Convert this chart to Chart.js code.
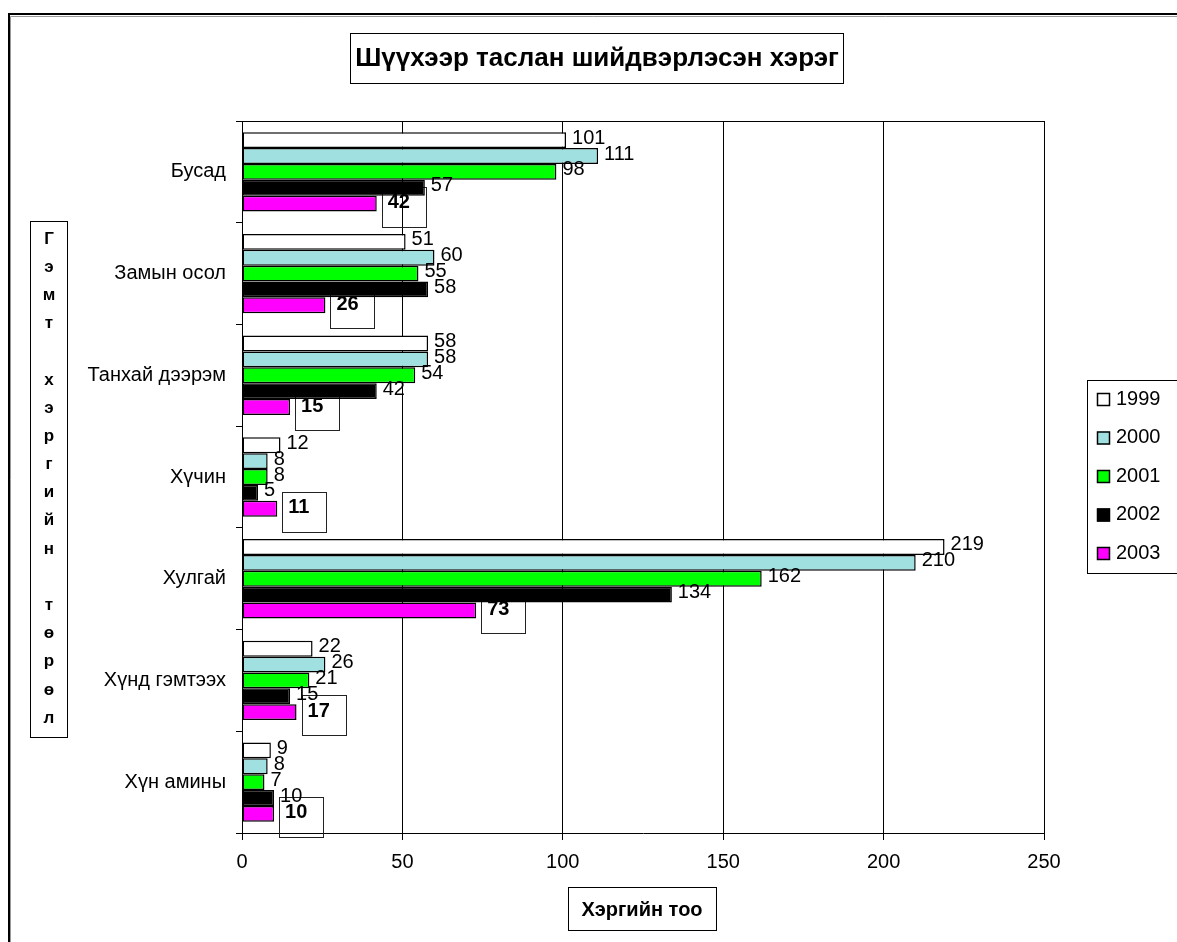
<!DOCTYPE html>
<html>
<head>
<meta charset="utf-8">
<script src="https://cdn.jsdelivr.net/npm/chart.js@4/dist/chart.umd.min.js"></script>
<style>
  html, body { margin: 0; padding: 0; background: #fff; }
  canvas { display: block; }
</style>
</head>
<body>
<canvas id="chart" width="1177" height="942"></canvas>
<script>
// Данные по годам
const categories = ['Бусад', 'Замын осол', 'Танхай дээрэм', 'Хүчин', 'Хулгай', 'Хүнд гэмтээх', 'Хүн амины'];
const years = ['1999', '2000', '2001', '2002', '2003'];
const values1999 = [101, 51, 58, 12, 219, 22, 9];
const values2000 = [111, 60, 58, 8, 210, 26, 8];
const values2001 = [98, 55, 54, 8, 162, 21, 7];
const values2002 = [57, 58, 42, 5, 134, 15, 10];
const values2003 = [42, 26, 15, 11, 73, 17, 10];
const xTicks = [0, 50, 100, 150, 200, 250];

const chartTitle = 'Шүүхээр таслан шийдвэрлэсэн хэрэг';
const xTitle = 'Хэргийн тоо';
const yTitle = 'Гэмт хэргийн төрөл';

const colors = ['#ffffff', '#a0e0e0', '#00ff00', '#000000', '#ff00ff'];
const FONT = "'Liberation Sans', Arial, sans-serif";

const seriesValues = [values1999, values2000, values2001, values2002, values2003];

// Рамка вокруг всего графика
const framePlugin = {
    id: 'frame',
    beforeDraw(chart) {
        const ctx = chart.ctx;
        ctx.save();
        ctx.strokeStyle = '#999';
        ctx.lineWidth = 1;
        ctx.beginPath();
        ctx.moveTo(10.5, 942);
        ctx.lineTo(10.5, 16.5);
        ctx.lineTo(1177, 16.5);
        ctx.stroke();
        ctx.strokeStyle = '#000';
        ctx.lineWidth = 2;
        ctx.beginPath();
        ctx.moveTo(9, 942);
        ctx.lineTo(9, 14);
        ctx.lineTo(1177, 14);
        ctx.stroke();
        ctx.restore();
    }
};

// Подписи значений; у 2003 года жирный шрифт в рамке
const labelsPlugin = {
    id: 'valueLabels',
    beforeDatasetsDraw(chart) {
        const ctx = chart.ctx;
        const last = chart.data.datasets.length - 1;
        ctx.save();
        ctx.strokeStyle = '#222';
        ctx.lineWidth = 1;
        chart.getDatasetMeta(last).data.forEach(bar => {
            const x = Math.round(bar.x) + 5.5;
            const y = Math.round(bar.y) - 16.5;
            ctx.strokeRect(x, y, 44, 40);
        });
        ctx.restore();
    },
    afterDatasetsDraw(chart) {
        const ctx = chart.ctx;
        const last = chart.data.datasets.length - 1;
        ctx.save();
        ctx.fillStyle = '#000';
        ctx.textBaseline = 'middle';
        ctx.textAlign = 'left';
        chart.data.datasets.forEach((ds, i) => {
            const meta = chart.getDatasetMeta(i);
            meta.data.forEach((bar, j) => {
                if (i === last) {
                    ctx.font = 'bold 20px ' + FONT;
                    ctx.fillText(ds.data[j], bar.x + 11, bar.y - 1);
                } else {
                    ctx.font = '20px ' + FONT;
                    ctx.fillText(ds.data[j], bar.x + 6, bar.y - 2);
                }
            });
        });
        ctx.restore();
    }
};

// Рамка области построения, заголовки и легенда
const boxesPlugin = {
    id: 'boxes',
    afterDraw(chart) {
        const ctx = chart.ctx;
        const area = chart.chartArea;
        ctx.save();
        ctx.strokeStyle = '#000';
        ctx.lineWidth = 1;
        ctx.beginPath();
        ctx.moveTo(area.left, area.top + 0.5);
        ctx.lineTo(area.right, area.top + 0.5);
        ctx.stroke();

        // заголовок
        ctx.strokeRect(350.5, 33.5, 493, 50);
        ctx.fillStyle = '#000';
        ctx.font = 'bold 26px ' + FONT;
        ctx.textAlign = 'center';
        ctx.textBaseline = 'middle';
        ctx.fillText(chartTitle, 597, 59);

        // подпись оси X
        ctx.strokeRect(568.5, 887.5, 148, 43);
        ctx.font = 'bold 20px ' + FONT;
        ctx.fillText(xTitle, 642, 910);

        // подпись оси Y, буквы столбиком
        ctx.strokeRect(30.5, 221.5, 37, 516);
        ctx.font = 'bold 17px ' + FONT;
        const letters = yTitle.split('');
        const step = (718 - 239) / (letters.length - 1);
        letters.forEach((ch, k) => {
            if (ch !== ' ') ctx.fillText(ch, 49, 239 + k * step);
        });

        // легенда
        ctx.strokeRect(1087.5, 380.5, 95, 193);
        ctx.textAlign = 'left';
        ctx.font = '20px ' + FONT;
        chart.data.datasets.forEach((ds, i) => {
            const cy = 399 + i * 38.5;
            ctx.fillStyle = ds.backgroundColor;
            ctx.fillRect(1097, cy - 6, 13, 13);
            ctx.strokeStyle = '#000';
            ctx.lineWidth = 1.5;
            ctx.strokeRect(1097.5, cy - 5.5, 12, 12);
            ctx.fillStyle = '#000';
            ctx.fillText(ds.label, 1116, cy);
        });
        ctx.restore();
    }
};

const chart = new Chart(document.getElementById('chart'), {
    type: 'bar',
    data: {
        labels: categories,
        datasets: years.map((year, i) => ({
            label: year,
            data: seriesValues[i],
            backgroundColor: colors[i],
            borderColor: '#000',
            borderWidth: 1.5,
            borderSkipped: false,
            categoryPercentage: 0.78,
            barPercentage: 1.0
        }))
    },
    options: {
        indexAxis: 'y',
        responsive: false,
        animation: false,
        devicePixelRatio: 1,
        layout: {
            padding: { left: 0, top: 121, right: 133, bottom: 0 }
        },
        plugins: {
            legend: { display: false },
            title: { display: false },
            tooltip: { enabled: false }
        },
        scales: {
            x: {
                min: 0,
                max: 250,
                afterBuildTicks: scale => {
                    scale.ticks = xTicks.map(v => ({ value: v }));
                },
                afterFit: scale => { scale.height = 109; },
                grid: {
                    color: '#000',
                    lineWidth: 1,
                    tickLength: 7,
                    drawTicks: true
                },
                border: { color: '#000', width: 1 },
                ticks: {
                    color: '#000',
                    padding: 10,
                    font: { family: FONT, size: 20 }
                }
            },
            y: {
                afterFit: scale => { scale.width = 242; },
                grid: {
                    color: '#000',
                    drawOnChartArea: false,
                    tickLength: 6,
                    offset: true
                },
                border: { color: '#000', width: 1 },
                ticks: {
                    color: '#000',
                    padding: 10,
                    font: { family: FONT, size: 20 }
                }
            }
        }
    },
    plugins: [framePlugin, labelsPlugin, boxesPlugin]
});
</script>
</body>
</html>
